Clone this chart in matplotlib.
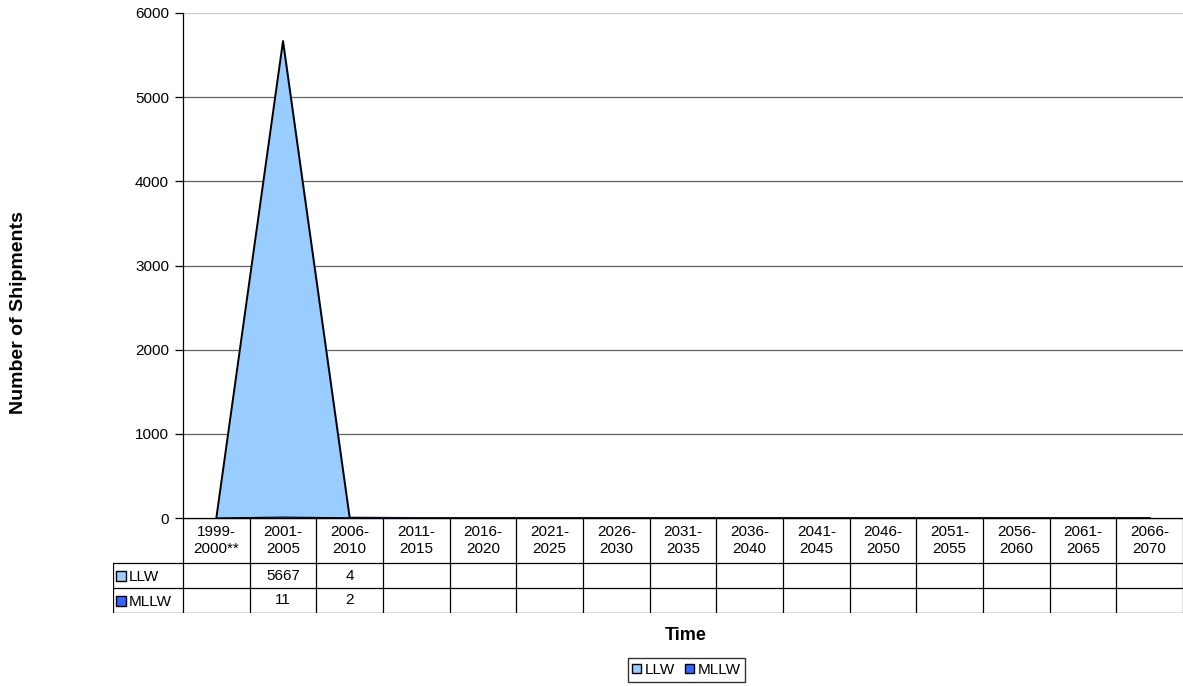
import matplotlib.pyplot as plt
from matplotlib.patches import Patch

# periods shown on the x axis / table header
periods = ['1999-\n2000**', '2001-\n2005', '2006-\n2010', '2011-\n2015', '2016-\n2020',
           '2021-\n2025', '2026-\n2030', '2031-\n2035', '2036-\n2040', '2041-\n2045',
           '2046-\n2050', '2051-\n2055', '2056-\n2060', '2061-\n2065', '2066-\n2070']

# shipments per period (None = blank cell in the table)
llw = [None, 5667, 4, None, None, None, None, None, None, None, None, None, None, None, None]
mllw = [None, 11, 2, None, None, None, None, None, None, None, None, None, None, None, None]

series_names = ['LLW', 'MLLW']
series_colors = ['#99CCFF', '#3366FF']
yticks = [0, 1000, 2000, 3000, 4000, 5000, 6000]

W, H = 1183, 686
fig = plt.figure(figsize=(W / 100, H / 100), dpi=100)
plt.rcParams['font.family'] = ['Liberation Sans', 'DejaVu Sans']

# main area chart: px 183..1183 wide, 13..518 tall
ax = fig.add_axes([183 / W, 1 - 518 / H, 1000 / W, 505 / H])
x = list(range(len(periods)))
llw_v = [v if v is not None else 0 for v in llw]
mllw_v = [v if v is not None else 0 for v in mllw]

ax.fill_between(x, 0, llw_v, color=series_colors[0], zorder=2)
ax.plot(x, llw_v, color='black', lw=1.4, zorder=3)
ax.fill_between(x, 0, mllw_v, color=series_colors[1], zorder=4)
ax.plot(x, mllw_v, color='black', lw=0.8, zorder=4)

ax.set_xlim(-0.5, len(periods) - 0.5)
ax.set_ylim(0, 6000)
ax.set_yticks(yticks)
ax.set_yticklabels([str(t) for t in yticks], fontsize=11)
ax.set_xticks([])
for t in yticks[1:]:
    ax.axhline(t, color='#c8c8c8' if t == 6000 else '#606060', lw=0.9, zorder=1)
ax.tick_params(axis='y', length=6, width=0.9, pad=4)
for s in ['top', 'right']:
    ax.spines[s].set_visible(False)
ax.spines['left'].set_linewidth(0.9)
ax.spines['bottom'].set_linewidth(0.9)

# y title centred on chart + table
fig.text(19 / W, 1 - 313 / H, 'Number of Shipments', rotation=90, ha='center', va='center',
         fontsize=14, fontweight='bold')

# data table below the chart: px 113..1183, 518..613
tx0 = -0.5 - 70 / (1000 / len(periods))
tab = fig.add_axes([113 / W, 1 - 613 / H, 1070 / W, 95 / H])
tab.set_xlim(tx0, len(periods) - 0.5)
tab.set_ylim(95, 0)
tab.axis('off')

rows_y = [0, 45, 70, 95]
for i in range(len(periods) + 1):
    xx = i - 0.5
    tab.plot([xx, xx], [0, 95], color='black', lw=0.9)
tab.plot([tx0, tx0], [45, 95], color='black', lw=0.9)
tab.plot([-0.5, len(periods) - 0.5], [0, 0], color='black', lw=0.9)
for yy in rows_y[1:]:
    tab.plot([tx0, len(periods) - 0.5], [yy, yy], color='black', lw=0.9)

for i, p in enumerate(periods):
    tab.text(i, 22.5, p, ha='center', va='center', fontsize=11, linespacing=1.35)
for r, (vals, name, col) in enumerate(zip([llw, mllw], series_names, series_colors)):
    yc = (rows_y[r + 1] + rows_y[r + 2]) / 2
    tab.add_patch(plt.Rectangle((tx0 + 0.05, yc - 5), 0.15, 10, facecolor=col,
                                edgecolor='black', lw=1.0))
    tab.text(tx0 + 0.24, yc + 1.5, name, ha='left', va='center', fontsize=11)
    for i, v in enumerate(vals):
        if v is not None:
            tab.text(i, yc, str(v), ha='center', va='center', fontsize=11)

fig.text(686 / W, 1 - 635 / H, 'Time', ha='center', va='center', fontsize=13, fontweight='bold')

handles = [Patch(facecolor=c, edgecolor='black', lw=1.0) for c in series_colors]
fig.legend(handles, series_names, loc='center', bbox_to_anchor=(686.5 / W, 1 - 670 / H),
           ncol=2, fontsize=11, frameon=True, fancybox=False, edgecolor='black',
           handlelength=0.55, handleheight=0.55, handletextpad=0.25, columnspacing=0.7,
           borderpad=0.3, borderaxespad=0)

fig.savefig('out.png', dpi=100)
